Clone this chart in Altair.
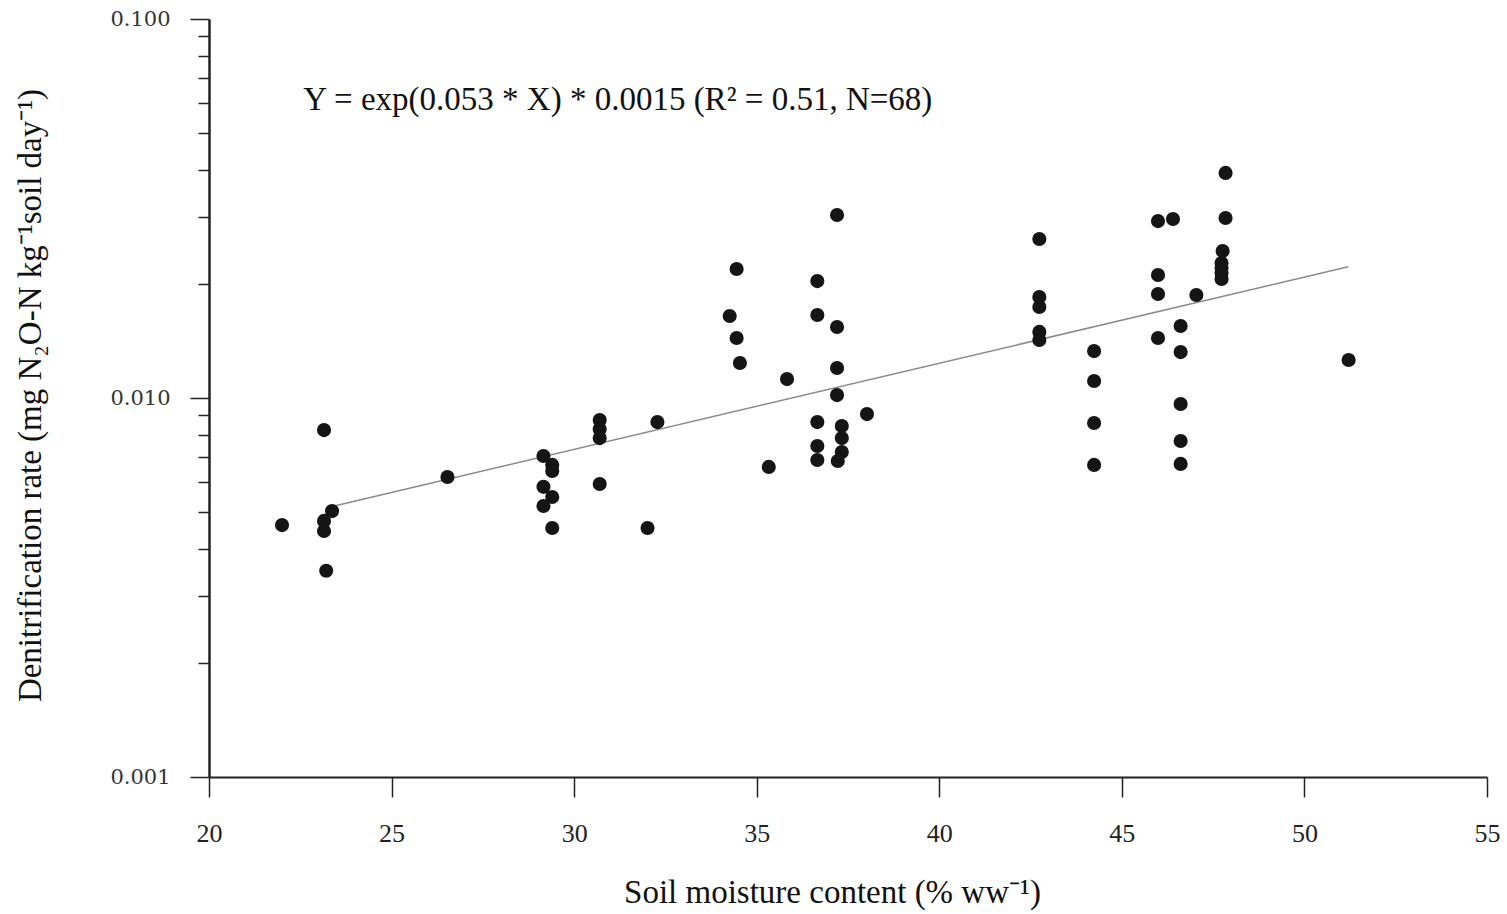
import altair as alt
import pandas as pd

# Soil moisture content (% ww-1)
moisture = [22.00, 23.15, 23.37, 23.15, 23.15, 23.21, 26.53,
            29.16, 29.40, 29.40, 29.16, 29.40, 29.16, 29.40,
            30.70, 30.70, 30.70, 30.70, 32.01, 32.28,
            34.45, 34.26, 34.45, 34.54, 35.33, 35.83,
            36.66, 36.66, 36.66, 36.66, 36.66,
            37.20, 37.20, 37.20, 37.20, 37.33, 37.33, 37.33, 37.22, 38.02,
            42.74, 42.74, 42.74, 42.74, 42.74,
            44.24, 44.24, 44.24, 44.24,
            45.99, 46.40, 45.99, 45.99, 45.99,
            46.61, 46.61, 46.61, 46.61, 46.61, 47.04,
            47.84, 47.84, 47.76, 47.73, 47.73, 47.73, 47.73, 51.21]
# Denitrification rate (mg N2O-N kg-1 soil day-1)
rate = [0.00462, 0.00823, 0.00503, 0.00474, 0.00446, 0.00350, 0.00619,
        0.00703, 0.00666, 0.00642, 0.00583, 0.00548, 0.00519, 0.00454,
        0.00875, 0.00828, 0.00784, 0.00593, 0.00454, 0.00864,
        0.0219, 0.01646, 0.01440, 0.01237, 0.00658, 0.01122,
        0.02035, 0.01656, 0.00864, 0.00747, 0.00686,
        0.0304, 0.01539, 0.0120, 0.01018, 0.00843, 0.00784, 0.00720, 0.00682, 0.00907,
        0.02627, 0.01847, 0.01739, 0.01494, 0.01422,
        0.01330, 0.01109, 0.00859, 0.00666,
        0.0293, 0.02967, 0.02111, 0.01881, 0.01440,
        0.01549, 0.01322, 0.00964, 0.00770, 0.00670, 0.01870,
        0.03925, 0.02985, 0.02443, 0.0227, 0.02203, 0.02137, 0.02061, 0.0126]

# fitted line endpoints
fit_x = [23.4, 51.2]
fit_y = [0.00518, 0.0222]

x_ticks = [20, 25, 30, 35, 40, 45, 50, 55]
y_ticks = [0.001, 0.002, 0.003, 0.004, 0.005, 0.006, 0.007, 0.008, 0.009,
           0.01, 0.02, 0.03, 0.04, 0.05, 0.06, 0.07, 0.08, 0.09, 0.1]

equation = "Y = exp(0.053 * X) * 0.0015 (R\u00b2 = 0.51, N=68)"
eq_x = [22.58]
eq_y = [0.0611]

pts = pd.DataFrame({"x": moisture, "y": rate})
fit = pd.DataFrame({"x": fit_x, "y": fit_y})
eq = pd.DataFrame({"x": eq_x, "y": eq_y, "t": [equation]})

FONT = "Liberation Serif"
major_test = "abs(log(datum.value)/LN10 - round(log(datum.value)/LN10)) < 0.001"

xscale = alt.Scale(domain=[20, 55], nice=False, zero=False)
yscale = alt.Scale(type="log", domain=[0.001, 0.1], nice=False)

xaxis = alt.Axis(
    values=x_ticks, title="Soil moisture content (% ww\u207b\u00b9)",
    grid=False, tickSize=20, tickColor="#222", tickWidth=1.5,
    domainColor="#222", domainWidth=2,
    labelFont=FONT, labelFontSize=26, labelColor="#222", labelPadding=23,
    labelFlush=False,
    titleFont=FONT, titleFontSize=33, titleFontWeight="normal", titleColor="#111",
    titleX=623, titleY=115, titleBaseline="middle", titleAlign="center",
)
yaxis = alt.Axis(
    values=y_ticks, title="Denitrification rate (mg N\u2082O-N kg\u207b\u00b9soil day\u207b\u00b9)",
    grid=False,
    tickSize={"condition": {"test": major_test, "value": 19}, "value": 11},
    tickColor="#222", tickWidth=1.5,
    domainColor="#222", domainWidth=2.5,
    labelExpr=f"({major_test}) ? format(datum.value, '.3f') : ''",
    labelOverlap=False, labelFlush=False, labelFont="DejaVu Serif", labelFontSize=21, labelColor="#333",
    labelPadding=20,
    titleFont=FONT, titleFontSize=33, titleFontWeight="normal", titleColor="#111",
    titleAngle=270, titleX=-179, titleY=376, titleBaseline="middle", titleAlign="center",
)

points = alt.Chart(pts).mark_circle(size=200, color="#151515", opacity=1).encode(
    x=alt.X("x:Q", scale=xscale, axis=xaxis),
    y=alt.Y("y:Q", scale=yscale, axis=yaxis),
)
line = alt.Chart(fit).mark_line(color="#8a8a8a", strokeWidth=1.5).encode(
    x=alt.X("x:Q", scale=xscale),
    y=alt.Y("y:Q", scale=yscale),
)
text = alt.Chart(eq).mark_text(font=FONT, fontSize=33, align="left", baseline="middle", color="#111").encode(
    x=alt.X("x:Q", scale=xscale),
    y=alt.Y("y:Q", scale=yscale),
    text="t:N",
)

chart = alt.layer(line, points, text).properties(
    width=1278, height=758,
    autosize=alt.AutoSizeParams(type="none"),
    padding={"left": 209, "top": 19, "right": 20, "bottom": 137},
    background="white",
).configure_view(stroke=None)

chart.save("out.html", embed_options={"renderer": "svg", "actions": False})
